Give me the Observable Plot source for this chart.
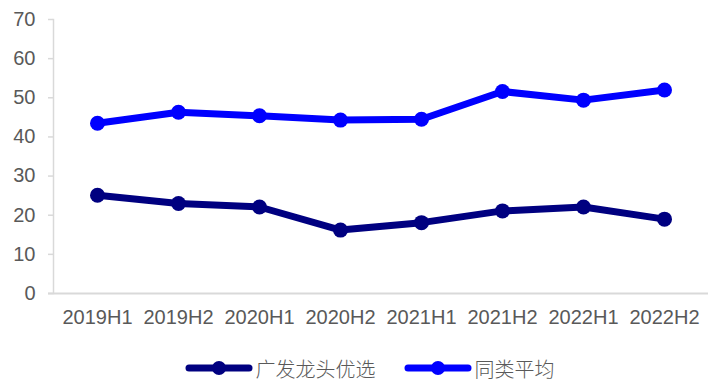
<!DOCTYPE html>
<html>
<head>
<meta charset="utf-8">
<script src="https://cdn.jsdelivr.net/npm/d3@7"></script>
<script src="https://cdn.jsdelivr.net/npm/@observablehq/plot@0.6"></script>
<style>
  html, body { margin: 0; padding: 0; background: #fff; }
  #chart { width: 717px; }
  .legend { display: flex; justify-content: center; align-items: center; height: 38px; padding-top: 9px; padding-left: 22px;
    font-family: "Noto Sans CJK SC", sans-serif; font-size: 20px; color: #595959; font-weight: 300; }
  .item { display: flex; align-items: center; margin: 0 14px; }
  .item svg { margin-right: 3px; }
</style>
</head>
<body>
<div id="chart"></div>
<script>
const periods = ["2019H1","2019H2","2020H1","2020H2","2021H1","2021H2","2022H1","2022H2"];
const seriesNames = ["广发龙头优选", "同类平均"];
const fundValues = [25.1, 23.0, 22.1, 16.2, 18.1, 21.1, 22.1, 19.0];
const peerValues = [43.5, 46.3, 45.4, 44.3, 44.5, 51.6, 49.4, 52.0];
const colors = ["#000080", "#0000ff"];
const yTicks = [0, 10, 20, 30, 40, 50, 60, 70];

const data = [
  ...periods.map((p, i) => ({period: p, value: fundValues[i], series: seriesNames[0]})),
  ...periods.map((p, i) => ({period: p, value: peerValues[i], series: seriesNames[1]}))
];

const plot = Plot.plot({
  width: 717,
  height: 340,
  marginTop: 19,
  marginBottom: 47,
  marginLeft: 53,
  marginRight: 9,
  style: {fontFamily: "'Liberation Sans', Arial, sans-serif", fontSize: "20px", color: "#595959", background: "#fff"},
  x: {type: "point", domain: periods, padding: 0.5},
  y: {domain: [0, 70]},
  color: {domain: seriesNames, range: colors},
  marks: [
    Plot.frame({anchor: "left", stroke: "#d9d9d9", strokeWidth: 1.5}),
    Plot.ruleY([0], {stroke: "#d9d9d9", strokeWidth: 2}),
    Plot.axisY({ticks: yTicks, tickSize: 5, tickPadding: 13, stroke: "#d9d9d9", strokeWidth: 1.5, fill: "#595959", label: null}),
    Plot.axisX({tickSize: 0, tickPadding: 16, fill: "#595959", label: null}),
    Plot.line(data, {x: "period", y: "value", z: "series", stroke: "series", strokeWidth: 7, strokeLinejoin: "round", strokeLinecap: "round"}),
    Plot.dot(data, {x: "period", y: "value", fill: "series", r: 7.5, stroke: null})
  ]
});
d3.select(plot).select('g[aria-label="rule"] line').attr("x1", 48);
document.getElementById("chart").appendChild(plot);

const legend = d3.select("#chart").append("div").attr("class", "legend");
seriesNames.forEach((name, i) => {
  const item = legend.append("div").attr("class", "item");
  const s = item.append("svg").attr("width", 68).attr("height", 20);
  s.append("line").attr("x1", 4).attr("x2", 64).attr("y1", 10).attr("y2", 10)
    .attr("stroke", colors[i]).attr("stroke-width", 7).attr("stroke-linecap", "round");
  s.append("circle").attr("cx", 34).attr("cy", 10).attr("r", 7).attr("fill", colors[i]);
  item.append("span").text(name);
});
</script>
</body>
</html>
